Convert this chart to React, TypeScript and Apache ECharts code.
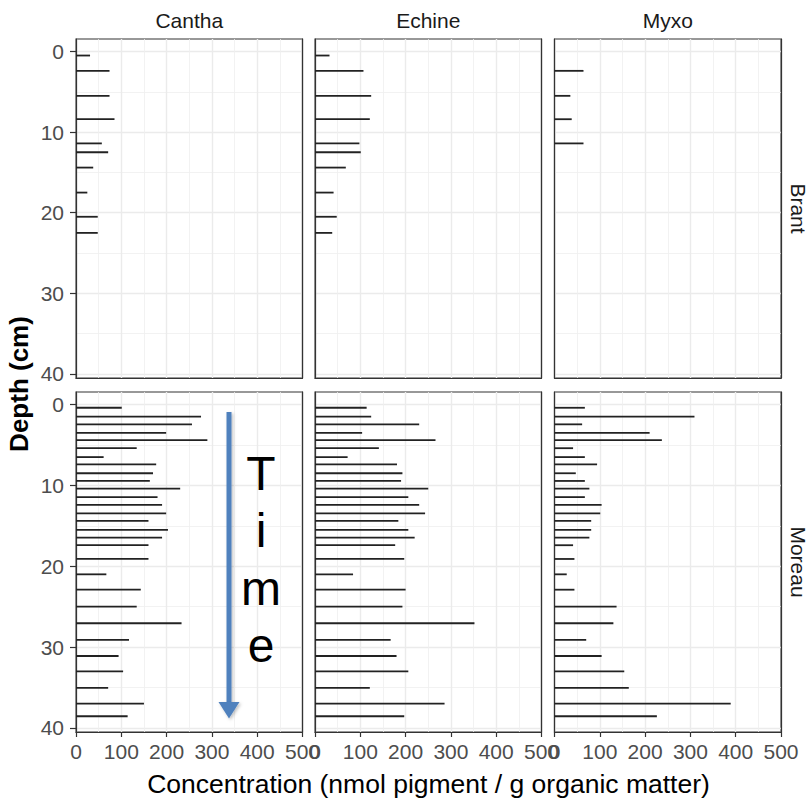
import React, { useEffect, useRef } from "react";
import * as echarts from "echarts";

const TAXA = ["Cantha", "Echine", "Myxo"];
const SITES = ["Brant", "Moreau"];

const BRANT_DEPTH = [0.5, 2.4, 5.5, 8.4, 11.4, 12.5, 14.4, 17.5, 20.5, 22.5];
const BRANT_CANTHA = [31, 74, 74, 85, 57, 71, 38, 25, 48, 48];
const BRANT_ECHINE = [32, 107, 124, 121, 98, 101, 68, 41, 48, 38];
const BRANT_MYXO = [null, 64, 35, 38, 64, null, null, null, null, null];

const MOREAU_DEPTH = [
  0.4, 1.5, 2.45, 3.5, 4.4, 5.4, 6.5, 7.4, 8.5, 9.45, 10.4, 11.45, 12.4, 13.45,
  14.4, 15.5, 16.45, 17.4, 19.1, 21.0, 22.9, 25.0, 27.05, 29.1, 31.1, 33.0,
  35.05, 37.0, 38.55,
];
const MOREAU_CANTHA = [
  101, 276, 256, 199, 290, 134, 61, 177, 170, 163, 230, 180, 190, 199, 160, 203,
  190, 160, 160, 67, 143, 134, 233, 117, 94, 104, 71, 150, 114,
];
const MOREAU_ECHINE = [
  114, 124, 230, 104, 266, 141, 72, 181, 193, 190, 250, 206, 230, 243, 184, 206,
  220, 177, 197, 84, 200, 193, 352, 167, 180, 206, 121, 286, 197,
];
const MOREAU_MYXO = [
  67, 309, 61, 210, 237, 41, 67, 94, 47, 67, 77, 67, 104, 101, 81, 81, 77, 41,
  44, 27, 44, 137, 130, 70, 104, 154, 164, 389, 226,
];

const Y_MAJOR = [0, 10, 20, 30, 40];
const Y_MINOR = [5, 15, 25, 35];
const X_TICKS = [0, 100, 200, 300, 400, 500];

const X_TITLE = "Concentration (nmol pigment / g organic matter)";
const Y_TITLE = "Depth (cm)";
const ANNOTATION = "T\ni\nm\ne";

const DEPTHS: Record<string, number[]> = { Brant: BRANT_DEPTH, Moreau: MOREAU_DEPTH };
const VALUES: Record<string, Record<string, (number | null)[]>> = {
  Brant: { Cantha: BRANT_CANTHA, Echine: BRANT_ECHINE, Myxo: BRANT_MYXO },
  Moreau: { Cantha: MOREAU_CANTHA, Echine: MOREAU_ECHINE, Myxo: MOREAU_MYXO },
};

const FONT = '"Liberation Sans", Arial, Helvetica, sans-serif';
const COL_LEFT = [76, 315, 554.5];
const PANEL_W = 226.5;
const ROW_TOP = [39, 392];
const ROW_H = [339, 340];
const Y_MIN = -1.55;
const Y_MAX = 40.5;

function buildOption() {
  const grid: any[] = [];
  const xAxis: any[] = [];
  const yAxis: any[] = [];
  const series: any[] = [];

  SITES.forEach((site, r) => {
    TAXA.forEach((taxon, c) => {
      const gi = r * 3 + c;
      grid.push({
        left: COL_LEFT[c],
        top: ROW_TOP[r],
        width: PANEL_W,
        height: ROW_H[r],
        show: true,
        borderColor: "#333333",
        borderWidth: 1.2,
        backgroundColor: "#ffffff",
        containLabel: false,
      });
      xAxis.push({
        type: "value",
        gridIndex: gi,
        min: X_TICKS[0],
        max: X_TICKS[X_TICKS.length - 1],
        interval: 100,
        position: "bottom",
        axisLine: { show: true, onZero: false, lineStyle: { color: "#333333", width: 1.2 } },
        axisTick: { show: r === 1, length: 5, lineStyle: { color: "#333333", width: 1.2 } },
        axisLabel: {
          show: r === 1,
          fontFamily: FONT,
          fontSize: 21,
          color: "#4D4D4D",
          margin: 9,
        },
        splitLine: { show: true, lineStyle: { color: "#EBEBEB", width: 1.4 } },
        minorTick: { show: false, splitNumber: 2 },
        minorSplitLine: { show: true, lineStyle: { color: "#EFEFEF", width: 0.8 } },
      });
      yAxis.push({
        type: "value",
        gridIndex: gi,
        inverse: true,
        min: Y_MIN,
        max: Y_MAX,
        position: "left",
        axisLine: { show: true, onZero: false, lineStyle: { color: "#333333", width: 1.2 } },
        axisTick: {
          show: c === 0,
          length: 6,
          customValues: Y_MAJOR,
          lineStyle: { color: "#333333", width: 1.2 },
        },
        axisLabel: {
          show: c === 0,
          customValues: Y_MAJOR,
          fontFamily: FONT,
          fontSize: 21,
          color: "#4D4D4D",
          margin: 12,
        },
        splitLine: { show: true, lineStyle: { color: "#EBEBEB", width: 1.4 } },
      });
      yAxis.push({
        type: "value",
        gridIndex: gi,
        inverse: true,
        min: Y_MIN,
        max: Y_MAX,
        position: "right",
        axisLine: { show: true, onZero: false, lineStyle: { color: "#333333", width: 1.2 } },
        axisTick: { show: false, customValues: Y_MINOR },
        axisLabel: { show: false, customValues: Y_MINOR },
        splitLine: { show: true, lineStyle: { color: "#EFEFEF", width: 0.8 } },
      });

      const depths = DEPTHS[site];
      const vals = VALUES[site][taxon];
      const data: number[][] = [];
      vals.forEach((v, i) => {
        if (v !== null && v !== undefined) data.push([v, depths[i]]);
      });
      series.push({
        type: "custom",
        xAxisIndex: gi,
        yAxisIndex: gi * 2,
        encode: { x: 0, y: 1 },
        clip: true,
        data,
        renderItem: (params: any, api: any) => {
          const v = api.value(0);
          const d = api.value(1);
          const s = api.coord([0, d]);
          const e = api.coord([v, d]);
          return {
            type: "line",
            shape: { x1: s[0], y1: s[1], x2: e[0], y2: e[1] },
            style: { stroke: "#222222", lineWidth: 1.8 },
          };
        },
      });
    });
  });

  const graphic: any[] = [];
  TAXA.forEach((t, c) => {
    graphic.push({
      type: "text",
      x: COL_LEFT[c] + PANEL_W / 2,
      y: 20,
      z: 100,
      style: {
        text: t,
        fontFamily: FONT,
        fontSize: 21,
        fill: "#1A1A1A",
        align: "center",
        verticalAlign: "middle",
      },
    });
  });
  SITES.forEach((s, r) => {
    graphic.push({
      type: "text",
      x: 798,
      y: ROW_TOP[r] + ROW_H[r] / 2,
      rotation: -Math.PI / 2,
      z: 100,
      style: {
        text: s,
        fontFamily: FONT,
        fontSize: 21,
        fill: "#1A1A1A",
        align: "center",
        verticalAlign: "middle",
      },
    });
  });
  graphic.push({
    type: "text",
    x: 428.5,
    y: 784,
    z: 100,
    style: {
      text: X_TITLE,
      fontFamily: FONT,
      fontSize: 26.5,
      fill: "#000000",
      align: "center",
      verticalAlign: "middle",
    },
  });
  graphic.push({
    type: "text",
    x: 19,
    y: 384,
    rotation: Math.PI / 2,
    z: 100,
    style: {
      text: Y_TITLE,
      fontFamily: FONT,
      fontSize: 26,
      fontWeight: "bold",
      fill: "#000000",
      align: "center",
      verticalAlign: "middle",
    },
  });
  // Time arrow
  graphic.push({
    type: "rect",
    z: 100,
    shape: { x: 226.5, y: 412, width: 5, height: 292 },
    style: {
      fill: "#4F81BD",
      shadowBlur: 3,
      shadowColor: "rgba(0,0,0,0.25)",
      shadowOffsetX: 1.5,
      shadowOffsetY: 1.5,
    },
  });
  graphic.push({
    type: "polygon",
    z: 100,
    shape: { points: [[218.5, 702], [239.5, 702], [229, 718.5]] },
    style: {
      fill: "#4F81BD",
      shadowBlur: 3,
      shadowColor: "rgba(0,0,0,0.25)",
      shadowOffsetX: 1.5,
      shadowOffsetY: 1.5,
    },
  });
  graphic.push({
    type: "text",
    x: 261,
    y: 444.8,
    z: 100,
    style: {
      text: ANNOTATION,
      fontFamily: FONT,
      fontSize: 48,
      lineHeight: 57.3,
      fill: "#000000",
      align: "center",
      verticalAlign: "top",
    },
  });

  return {
    animation: false,
    backgroundColor: "#ffffff",
    grid,
    xAxis,
    yAxis,
    series,
    graphic,
  };
}

export default function App() {
  const ref = useRef<HTMLDivElement>(null);
  useEffect(() => {
    if (!ref.current) return;
    const chart = echarts.init(ref.current, undefined, { renderer: "svg" });
    chart.setOption(buildOption() as any);
    return () => chart.dispose();
  }, []);
  return (
    <div
      ref={ref}
      style={{ position: "fixed", left: 0, top: 0, width: 811, height: 798 }}
    />
  );
}
